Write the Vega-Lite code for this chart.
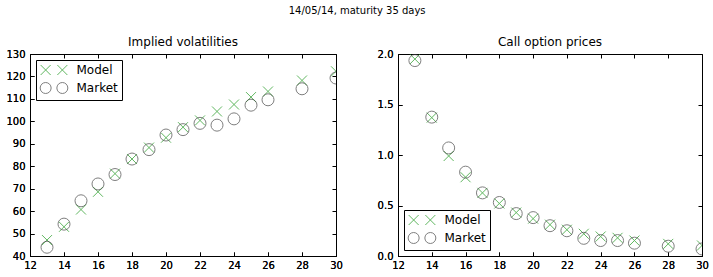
{
  "$schema": "https://vega.github.io/schema/vega-lite/v6.json",
  "padding": {"left": 5, "top": 5, "right": 7, "bottom": 4},
  "spacing": 33,
  "title": {"text": "14/05/14, maturity 35 days", "fontSize": 10, "anchor": "middle", "offset": 20},
  "datasets": {
    "iv": [
      {"K": 13, "series": "Model", "v": 47.1}, {"K": 14, "series": "Model", "v": 53.0}, {"K": 15, "series": "Model", "v": 60.7}, {"K": 16, "series": "Model", "v": 68.6},
      {"K": 17, "series": "Model", "v": 76.7}, {"K": 18, "series": "Model", "v": 83.2}, {"K": 19, "series": "Model", "v": 88.3}, {"K": 20, "series": "Model", "v": 92.7},
      {"K": 21, "series": "Model", "v": 97.4}, {"K": 22, "series": "Model", "v": 100.4}, {"K": 23, "series": "Model", "v": 104.4}, {"K": 24, "series": "Model", "v": 107.5},
      {"K": 25, "series": "Model", "v": 110.8}, {"K": 26, "series": "Model", "v": 113.3}, {"K": 28, "series": "Model", "v": 118.2}, {"K": 30, "series": "Model", "v": 122.3},
      {"K": 13, "series": "Market", "v": 43.9}, {"K": 14, "series": "Market", "v": 54.2}, {"K": 15, "series": "Market", "v": 64.6}, {"K": 16, "series": "Market", "v": 72.1},
      {"K": 17, "series": "Market", "v": 76.3}, {"K": 18, "series": "Market", "v": 83.2}, {"K": 19, "series": "Market", "v": 87.4}, {"K": 20, "series": "Market", "v": 93.9},
      {"K": 21, "series": "Market", "v": 96.3}, {"K": 22, "series": "Market", "v": 99.1}, {"K": 23, "series": "Market", "v": 98.3}, {"K": 24, "series": "Market", "v": 101.1},
      {"K": 25, "series": "Market", "v": 107.2}, {"K": 26, "series": "Market", "v": 109.6}, {"K": 28, "series": "Market", "v": 114.5}, {"K": 30, "series": "Market", "v": 119.3}
    ],
    "price": [
      {"K": 13, "series": "Model", "v": 1.95}, {"K": 14, "series": "Model", "v": 1.37}, {"K": 15, "series": "Model", "v": 0.99}, {"K": 16, "series": "Model", "v": 0.78},
      {"K": 17, "series": "Model", "v": 0.625}, {"K": 18, "series": "Model", "v": 0.52}, {"K": 19, "series": "Model", "v": 0.43}, {"K": 20, "series": "Model", "v": 0.37},
      {"K": 21, "series": "Model", "v": 0.31}, {"K": 22, "series": "Model", "v": 0.26}, {"K": 23, "series": "Model", "v": 0.22}, {"K": 24, "series": "Model", "v": 0.193},
      {"K": 25, "series": "Model", "v": 0.18}, {"K": 26, "series": "Model", "v": 0.153}, {"K": 28, "series": "Model", "v": 0.12}, {"K": 30, "series": "Model", "v": 0.104},
      {"K": 13, "series": "Market", "v": 1.935}, {"K": 14, "series": "Market", "v": 1.375}, {"K": 15, "series": "Market", "v": 1.07}, {"K": 16, "series": "Market", "v": 0.83},
      {"K": 17, "series": "Market", "v": 0.625}, {"K": 18, "series": "Market", "v": 0.53}, {"K": 19, "series": "Market", "v": 0.42}, {"K": 20, "series": "Market", "v": 0.38},
      {"K": 21, "series": "Market", "v": 0.30}, {"K": 22, "series": "Market", "v": 0.25}, {"K": 23, "series": "Market", "v": 0.175}, {"K": 24, "series": "Market", "v": 0.153},
      {"K": 25, "series": "Market", "v": 0.153}, {"K": 26, "series": "Market", "v": 0.127}, {"K": 28, "series": "Market", "v": 0.097}, {"K": 30, "series": "Market", "v": 0.07}
    ]
  },
  "config": {
    "font": "DejaVu Sans",
    "view": {"stroke": "black", "strokeWidth": 1},
    "axis": {"domain": false, "grid": false, "ticks": true, "tickSize": -4, "tickColor": "black", "tickWidth": 1, "labelColor": "black", "labelFontSize": 10, "labelFont": "DejaVu Sans", "labelFlush": false, "labelOverlap": false, "title": null},
    "axisX": {"labelPadding": 8},
    "axisY": {"labelPadding": 9},
    "title": {"font": "DejaVu Sans", "fontSize": 12, "fontWeight": "normal", "color": "black"},
    "legend": {"strokeColor": "black", "fillColor": "white", "padding": 4, "cornerRadius": 0, "labelFontSize": 12, "labelFont": "DejaVu Sans", "labelColor": "black", "symbolStrokeWidth": 1, "symbolSize": 100, "rowPadding": 3, "offset": 6, "symbolOffset": 8, "labelOffset": 16.5, "title": null}
  },
  "hconcat": [
    {
      "width": 306, "height": 202,
      "title": {"text": "Implied volatilities", "offset": 0},
      "data": {"name": "iv"},
      "encoding": {
        "x": {"field": "K", "type": "quantitative", "scale": {"domain": [12, 30], "nice": false, "zero": false}, "axis": {"orient": "bottom", "values": [12, 14, 16, 18, 20, 22, 24, 26, 28, 30]}},
        "y": {"field": "v", "type": "quantitative", "scale": {"domain": [40, 130], "nice": false, "zero": false}, "axis": {"orient": "left", "values": [40, 50, 60, 70, 80, 90, 100, 110, 120, 130]}}
      },
      "layer": [
        {
          "transform": [{"filter": "datum.series === 'Model'"}],
          "mark": {"type": "point", "filled": false, "clip": true, "strokeWidth": 1, "shape": "M-1,-1L1,1M-1,1L1,-1", "size": 100},
          "encoding": {
            "color": {"field": "series", "type": "nominal", "scale": {"domain": ["Model", "Market"], "range": ["#1f9a1f", "#4a4a4a"]}, "legend": {"orient": "top-left", "symbolType": {"expr": "datum.value === 'Model' ? 'M-2.67,-1L-0.67,1M-2.67,1L-0.67,-1M0.67,-1L2.67,1M0.67,1L2.67,-1' : 'M-0.57,0A1.1,1.1 0 1,1 -2.77,0A1.1,1.1 0 1,1 -0.57,0ZM2.77,0A1.1,1.1 0 1,1 0.57,0A1.1,1.1 0 1,1 2.77,0Z'"}}}
          }
        },
        {
          "transform": [{"filter": "datum.series === 'Market'"}],
          "mark": {"type": "point", "filled": false, "clip": true, "strokeWidth": 1, "shape": "circle", "size": 144},
          "encoding": {
            "color": {"field": "series", "type": "nominal", "scale": {"domain": ["Model", "Market"], "range": ["#1f9a1f", "#4a4a4a"]}, "legend": {"orient": "top-left", "symbolType": {"expr": "datum.value === 'Model' ? 'M-2.67,-1L-0.67,1M-2.67,1L-0.67,-1M0.67,-1L2.67,1M0.67,1L2.67,-1' : 'M-0.57,0A1.1,1.1 0 1,1 -2.77,0A1.1,1.1 0 1,1 -0.57,0ZM2.77,0A1.1,1.1 0 1,1 0.57,0A1.1,1.1 0 1,1 2.77,0Z'"}}}
          }
        },
        {
          "mark": {"type": "point", "opacity": 0},
          "encoding": {
            "x": {"field": "K", "type": "quantitative", "scale": {"domain": [12, 30], "nice": false, "zero": false}, "axis": {"orient": "top", "labels": false, "values": [12, 14, 16, 18, 20, 22, 24, 26, 28, 30]}},
            "y": {"field": "v", "type": "quantitative", "scale": {"domain": [40, 130], "nice": false, "zero": false}, "axis": {"orient": "right", "labels": false, "values": [40, 50, 60, 70, 80, 90, 100, 110, 120, 130]}}
          }
        }
      ]
    },
    {
      "width": 304, "height": 202,
      "title": {"text": "Call option prices", "offset": 0},
      "data": {"name": "price"},
      "encoding": {
        "x": {"field": "K", "type": "quantitative", "scale": {"domain": [12, 30], "nice": false, "zero": false}, "axis": {"orient": "bottom", "values": [12, 14, 16, 18, 20, 22, 24, 26, 28, 30]}},
        "y": {"field": "v", "type": "quantitative", "scale": {"domain": [0, 2], "nice": false, "zero": false}, "axis": {"orient": "left", "values": [0, 0.5, 1, 1.5, 2], "format": ".1f"}}
      },
      "layer": [
        {
          "transform": [{"filter": "datum.series === 'Model'"}],
          "mark": {"type": "point", "filled": false, "clip": true, "strokeWidth": 1, "shape": "M-1,-1L1,1M-1,1L1,-1", "size": 100},
          "encoding": {
            "color": {"field": "series", "type": "nominal", "scale": {"domain": ["Model", "Market"], "range": ["#1f9a1f", "#4a4a4a"]}, "legend": {"orient": "bottom-left", "symbolType": {"expr": "datum.value === 'Model' ? 'M-2.67,-1L-0.67,1M-2.67,1L-0.67,-1M0.67,-1L2.67,1M0.67,1L2.67,-1' : 'M-0.57,0A1.1,1.1 0 1,1 -2.77,0A1.1,1.1 0 1,1 -0.57,0ZM2.77,0A1.1,1.1 0 1,1 0.57,0A1.1,1.1 0 1,1 2.77,0Z'"}}}
          }
        },
        {
          "transform": [{"filter": "datum.series === 'Market'"}],
          "mark": {"type": "point", "filled": false, "clip": true, "strokeWidth": 1, "shape": "circle", "size": 144},
          "encoding": {
            "color": {"field": "series", "type": "nominal", "scale": {"domain": ["Model", "Market"], "range": ["#1f9a1f", "#4a4a4a"]}, "legend": {"orient": "bottom-left", "symbolType": {"expr": "datum.value === 'Model' ? 'M-2.67,-1L-0.67,1M-2.67,1L-0.67,-1M0.67,-1L2.67,1M0.67,1L2.67,-1' : 'M-0.57,0A1.1,1.1 0 1,1 -2.77,0A1.1,1.1 0 1,1 -0.57,0ZM2.77,0A1.1,1.1 0 1,1 0.57,0A1.1,1.1 0 1,1 2.77,0Z'"}}}
          }
        },
        {
          "mark": {"type": "point", "opacity": 0},
          "encoding": {
            "x": {"field": "K", "type": "quantitative", "scale": {"domain": [12, 30], "nice": false, "zero": false}, "axis": {"orient": "top", "labels": false, "values": [12, 14, 16, 18, 20, 22, 24, 26, 28, 30]}},
            "y": {"field": "v", "type": "quantitative", "scale": {"domain": [0, 2], "nice": false, "zero": false}, "axis": {"orient": "right", "labels": false, "values": [0, 0.5, 1, 1.5, 2]}}
          }
        }
      ]
    }
  ],
  "resolve": {"scale": {"color": "independent"}}
}
